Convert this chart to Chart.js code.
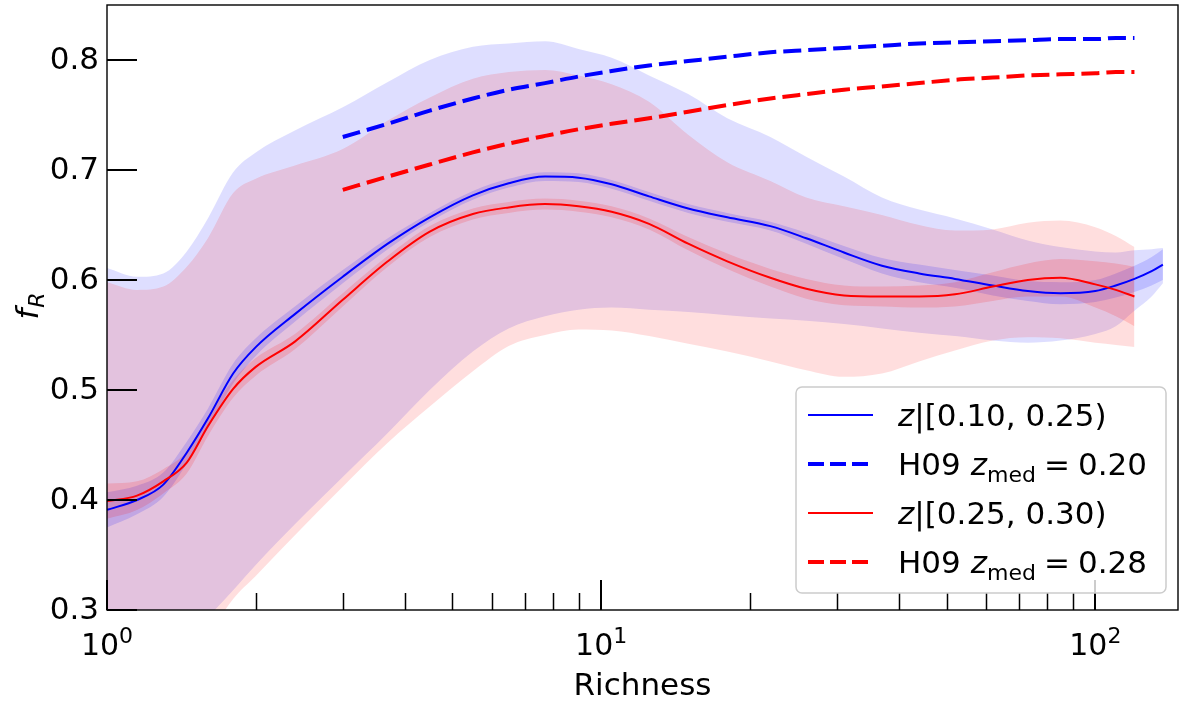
<!DOCTYPE html>
<html>
<head>
<meta charset="utf-8">
<script src="https://cdn.jsdelivr.net/npm/chart.js@4.4.1/dist/chart.umd.min.js"></script>
<style>
  html, body { margin: 0; padding: 0; background: #fff; }
  #wrap { width: 1180px; height: 704px; position: relative; }
</style>
</head>
<body>
<div id="wrap"><canvas id="chart"></canvas></div>
<script>
// richness grid (x values)
const richness = [1, 1.15, 1.3, 1.45, 1.6, 1.8, 2, 2.4, 3, 3.7, 4.5, 5.5, 6.5, 7.7, 9, 10.5, 12.5,
  15, 18, 22, 26, 31, 37, 44, 52, 62, 73, 85, 100, 110, 120, 130, 137];

// z in [0.10, 0.25)
const fLow = [0.391, 0.400, 0.414, 0.443, 0.474, 0.515, 0.539, 0.569, 0.603, 0.633, 0.657, 0.677, 0.688,
  0.694, 0.693, 0.687, 0.676, 0.665, 0.657, 0.649, 0.638, 0.625, 0.613, 0.606, 0.601, 0.595, 0.590,
  0.588, 0.590, 0.595, 0.601, 0.608, 0.614];
const fLowErr = [0.016, 0.013, 0.011, 0.010, 0.009, 0.009, 0.008, 0.007, 0.006, 0.005, 0.004, 0.004, 0.004,
  0.004, 0.004, 0.004, 0.004, 0.004, 0.004, 0.004, 0.005, 0.006, 0.007, 0.008, 0.008, 0.009, 0.009,
  0.010, 0.010, 0.011, 0.012, 0.013, 0.014];
const scatterLowUp = [0.611, 0.603, 0.606, 0.626, 0.656, 0.698, 0.716, 0.736, 0.757, 0.780, 0.800, 0.812, 0.815,
  0.817, 0.810, 0.802, 0.786, 0.769, 0.747, 0.730, 0.712, 0.694, 0.675, 0.664, 0.656, 0.646, 0.636,
  0.630, 0.626, 0.625, 0.627, 0.628, 0.629];
const scatterLowDn = [0.200, 0.220, 0.245, 0.270, 0.293, 0.318, 0.341, 0.378, 0.421, 0.461, 0.500, 0.535, 0.556,
  0.567, 0.573, 0.575, 0.573, 0.571, 0.568, 0.565, 0.563, 0.560, 0.556, 0.552, 0.549, 0.545, 0.543,
  0.545, 0.551, 0.558, 0.572, 0.585, 0.597];

// z in [0.25, 0.30)
const fHigh = [0.399, 0.404, 0.417, 0.434, 0.467, 0.501, 0.521, 0.544, 0.582, 0.617, 0.644, 0.660, 0.666,
  0.669, 0.667, 0.662, 0.651, 0.633, 0.617, 0.602, 0.592, 0.586, 0.585, 0.585, 0.587, 0.594, 0.600,
  0.602, 0.596, 0.591, 0.585, null, null];
const fHighErr = [0.016, 0.013, 0.011, 0.010, 0.009, 0.008, 0.008, 0.007, 0.006, 0.005, 0.005, 0.005, 0.005,
  0.005, 0.005, 0.005, 0.005, 0.006, 0.007, 0.008, 0.009, 0.009, 0.009, 0.010, 0.011, 0.013, 0.015,
  0.017, 0.021, 0.024, 0.027, null, null];
const scatterHighUp = [0.598, 0.591, 0.594, 0.612, 0.638, 0.679, 0.692, 0.704, 0.719, 0.745, 0.766, 0.783, 0.789,
  0.791, 0.786, 0.778, 0.762, 0.732, 0.707, 0.690, 0.675, 0.667, 0.659, 0.650, 0.645, 0.646, 0.652,
  0.654, 0.648, 0.640, 0.630, null, null];
const scatterHighDn = [0.170, 0.190, 0.215, 0.240, 0.275, 0.310, 0.331, 0.368, 0.412, 0.452, 0.485, 0.517, 0.540,
  0.550, 0.555, 0.554, 0.549, 0.542, 0.535, 0.526, 0.518, 0.512, 0.515, 0.526, 0.536, 0.545, 0.548,
  0.547, 0.543, 0.541, 0.539, null, null];

// Hansen et al. 2009 curves
const h09Low = [null, null, null, null, null, null, null, null, 0.730, 0.742, 0.754, 0.765, 0.773,
  0.779, 0.785, 0.790, 0.795, 0.799, 0.803, 0.807, 0.809, 0.811, 0.813, 0.815, 0.816, 0.817, 0.818,
  0.819, 0.819, 0.820, 0.820, null, null];
const h09High = [null, null, null, null, null, null, null, null, 0.682, 0.694, 0.705, 0.716, 0.724,
  0.731, 0.737, 0.742, 0.747, 0.753, 0.759, 0.765, 0.769, 0.773, 0.776, 0.779, 0.782, 0.784, 0.786,
  0.787, 0.788, 0.789, 0.789, null, null];

// axis ticks
const yTicks = [0.3, 0.4, 0.5, 0.6, 0.7, 0.8];
const xMajor = [1, 10, 100];
const xMinor = [2, 3, 4, 5, 6, 7, 8, 9, 20, 30, 40, 50, 60, 70, 80, 90];

const FONT = '"DejaVu Sans", sans-serif';

function pts(ys, errs, sign) {
  return richness
    .map((x, i) => {
      if (ys[i] == null) return null;
      const e = errs ? errs[i] * sign : 0;
      return { x: x, y: ys[i] + e };
    })
    .filter(p => p !== null);
}

function band(data, order, fillColor) {
  return {
    data: data, order: order, borderWidth: 0, pointRadius: 0,
    borderColor: 'rgba(0,0,0,0)', backgroundColor: fillColor,
    fill: fillColor ? '+1' : false, cubicInterpolationMode: 'monotone'
  };
}

function line(data, order, color, width, dash) {
  return {
    data: data, order: order, borderWidth: width, pointRadius: 0, borderColor: color,
    borderDash: dash || [], fill: false, cubicInterpolationMode: 'monotone'
  };
}

// run of text pieces: {t, size, italic, dy, gap}
function drawRuns(ctx, x, y, runs) {
  let cx = x;
  runs.forEach(r => {
    cx += r.gap || 0;
    ctx.font = (r.italic ? 'italic ' : '') + r.size + 'px ' + FONT;
    ctx.fillText(r.t, cx, y + (r.dy || 0));
    cx += ctx.measureText(r.t).width;
  });
  return cx - x;
}

function runsWidth(ctx, runs) {
  let w = 0;
  runs.forEach(r => {
    ctx.font = (r.italic ? 'italic ' : '') + r.size + 'px ' + FONT;
    w += (r.gap || 0) + ctx.measureText(r.t).width;
  });
  return w;
}

const decorations = {
  id: 'decorations',
  afterDraw(chart) {
    const { ctx, chartArea: a, scales: { x, y } } = chart;
    ctx.save();
    ctx.fillStyle = '#000';
    ctx.strokeStyle = '#000';

    // frame
    ctx.lineWidth = 1.4;
    ctx.strokeRect(a.left, a.top, a.right - a.left, a.bottom - a.top);

    // inward ticks
    ctx.lineWidth = 2;
    ctx.beginPath();
    yTicks.forEach(v => {
      const py = Math.round(y.getPixelForValue(v));
      ctx.moveTo(a.left, py);
      ctx.lineTo(a.left + 30, py);
    });
    xMajor.forEach(v => {
      const px = Math.round(x.getPixelForValue(v));
      ctx.moveTo(px, a.bottom);
      ctx.lineTo(px, a.bottom - 30);
    });
    ctx.stroke();
    ctx.lineWidth = 1.5;
    ctx.beginPath();
    xMinor.forEach(v => {
      const px = Math.round(x.getPixelForValue(v)) + 0.5;
      ctx.moveTo(px, a.bottom);
      ctx.lineTo(px, a.bottom - 17);
    });
    ctx.stroke();

    // y tick labels
    ctx.font = '31px ' + FONT;
    ctx.textAlign = 'right';
    ctx.textBaseline = 'middle';
    yTicks.forEach(v => {
      ctx.fillText(v.toFixed(1), a.left - 8, y.getPixelForValue(v) + 1);
    });

    // x tick labels 10^n
    ctx.textAlign = 'left';
    ctx.textBaseline = 'alphabetic';
    xMajor.forEach(v => {
      const runs = [
        { t: '10', size: 30 },
        { t: String(Math.round(Math.log10(v))), size: 22, dy: -12 }
      ];
      const w = runsWidth(ctx, runs);
      drawRuns(ctx, x.getPixelForValue(v) - w / 2, a.bottom + 45, runs);
    });

    // axis titles
    ctx.font = '31px ' + FONT;
    ctx.textAlign = 'center';
    ctx.fillText('Richness', (a.left + a.right) / 2, 695);

    ctx.save();
    ctx.translate(38, 306);
    ctx.rotate(-Math.PI / 2);
    ctx.textAlign = 'left';
    const yRuns = [
      { t: 'f', size: 31, italic: true },
      { t: 'R', size: 22, italic: true, dy: 6, gap: 1 }
    ];
    drawRuns(ctx, -runsWidth(ctx, yRuns) / 2, 0, yRuns);
    ctx.restore();

    // legend
    const lx = 796, ly = 387, lw = 370, lh = 206;
    ctx.beginPath();
    ctx.roundRect(lx, ly, lw, lh, 6);
    ctx.fillStyle = 'rgba(255,255,255,0.8)';
    ctx.fill();
    ctx.strokeStyle = '#cccccc';
    ctx.lineWidth = 1.5;
    ctx.stroke();

    const items = [
      { color: '#0000ff', dashed: false, runs: [
        { t: 'z', size: 31, italic: true }, { t: '|[0.10, 0.25)', size: 31 }] },
      { color: '#0000ff', dashed: true, runs: [
        { t: 'H09', size: 31 }, { t: 'z', size: 31, italic: true, gap: 10 },
        { t: 'med', size: 22, dy: 7 }, { t: '=', size: 31, gap: 8 }, { t: '0.20', size: 31, gap: 8 }] },
      { color: '#ff0000', dashed: false, runs: [
        { t: 'z', size: 31, italic: true }, { t: '|[0.25, 0.30)', size: 31 }] },
      { color: '#ff0000', dashed: true, runs: [
        { t: 'H09', size: 31 }, { t: 'z', size: 31, italic: true, gap: 10 },
        { t: 'med', size: 22, dy: 7 }, { t: '=', size: 31, gap: 8 }, { t: '0.28', size: 31, gap: 8 }] }
    ];
    const rowY = [415, 464, 513, 562];
    ctx.textAlign = 'left';
    items.forEach((it, i) => {
      const cy = rowY[i];
      ctx.strokeStyle = it.color;
      ctx.lineWidth = it.dashed ? 4 : 2;
      ctx.setLineDash(it.dashed ? [16, 6] : []);
      ctx.beginPath();
      ctx.moveTo(808, cy);
      ctx.lineTo(873, cy);
      ctx.stroke();
      ctx.setLineDash([]);
      ctx.fillStyle = '#000';
      drawRuns(ctx, 898, cy + 11, it.runs);
    });

    ctx.restore();
  }
};

new Chart(document.getElementById('chart'), {
  type: 'line',
  data: {
    datasets: [
      band(pts(scatterLowUp), 20, 'rgba(0,0,255,0.13)'),
      band(pts(scatterLowDn), 20, null),
      band(pts(scatterHighUp), 19, 'rgba(255,0,0,0.13)'),
      band(pts(scatterHighDn), 19, null),
      band(pts(fLow, fLowErr, 1), 18, 'rgba(0,0,255,0.15)'),
      band(pts(fLow, fLowErr, -1), 18, null),
      band(pts(fHigh, fHighErr, 1), 17, 'rgba(255,0,0,0.15)'),
      band(pts(fHigh, fHighErr, -1), 17, null),
      line(pts(fLow), 4, '#0000ff', 2),
      line(pts(h09Low), 3, '#0000ff', 4, [18, 7]),
      line(pts(fHigh), 2, '#ff0000', 2),
      line(pts(h09High), 1, '#ff0000', 4, [18, 7])
    ]
  },
  options: {
    responsive: true,
    maintainAspectRatio: false,
    animation: false,
    devicePixelRatio: 1,
    layout: { padding: { left: 107, right: 2, top: 5, bottom: 94 } },
    scales: {
      x: { type: 'logarithmic', min: 1, max: 147, display: false },
      y: { type: 'linear', min: 0.3, max: 0.85, display: false }
    },
    plugins: {
      legend: { display: false },
      tooltip: { enabled: false }
    }
  },
  plugins: [decorations]
});
</script>
</body>
</html>
